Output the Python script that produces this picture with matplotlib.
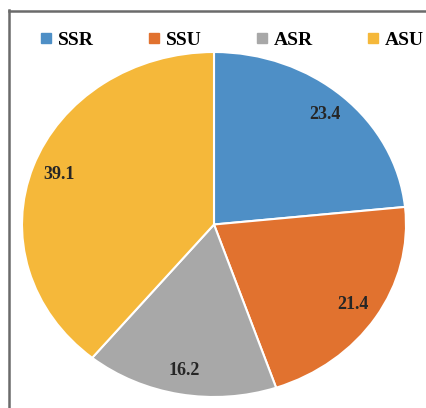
import matplotlib
matplotlib.use("Agg")
import matplotlib.pyplot as plt
from matplotlib.lines import Line2D

categories = ["SSR", "SSU", "ASR", "ASU"]
values = [23.4, 21.4, 16.2, 39.1]
value_labels = ["23.4", "21.4", "16.2", "39.1"]
colors = ["#4e8fc6", "#e1722f", "#a8a8a8", "#f5b83a"]

plt.rcParams['font.family'] = ['Liberation Serif', 'DejaVu Serif']

W, H = 427, 408
fig = plt.figure(figsize=(W / 100, H / 100), dpi=100)
fig.patch.set_facecolor("white")

# pie axes (ellipse spanning x 22..406, y 52..397 in pixel coords)
left, right, top, bottom = 22, 406, 52, 397
ax = fig.add_axes([left / W, (H - bottom) / H, (right - left) / W, (bottom - top) / H])

it = iter(value_labels)
wedges, texts, autotexts = ax.pie(
    values, colors=colors, startangle=90, counterclock=False,
    autopct=lambda p: next(it), pctdistance=0.86,
    wedgeprops=dict(edgecolor="white", linewidth=1.5),
    textprops=dict(fontsize=13, fontweight="bold", color="#262626"),
    radius=1.0, frame=False,
)
ax.set_aspect("auto")
ax.set_xlim(-1, 1)
ax.set_ylim(-1, 1)
ax.axis("off")

# legend
handles = [Line2D([0], [0], marker="s", linestyle="none", markersize=6.5,
                  markerfacecolor=c, markeredgecolor=c) for c in colors]
fig.legend(handles, categories, loc="center", bbox_to_anchor=(232 / W, 1 - 40 / H),
           ncol=4, frameon=False, handlelength=0.6, handletextpad=0.3,
           columnspacing=2.8, prop=dict(size=14, weight="bold"),
           borderaxespad=0)

# partial frame border (left and top)
lc = "#6b6b6b"
fig.add_artist(Line2D([9 / W, 9 / W], [0, 1 - 10 / H], color=lc, linewidth=1.8,
                      transform=fig.transFigure))
fig.add_artist(Line2D([9 / W, 1], [1 - 11 / H, 1 - 11 / H], color=lc, linewidth=1.8,
                      transform=fig.transFigure))

fig.savefig("out.png", dpi=100)
